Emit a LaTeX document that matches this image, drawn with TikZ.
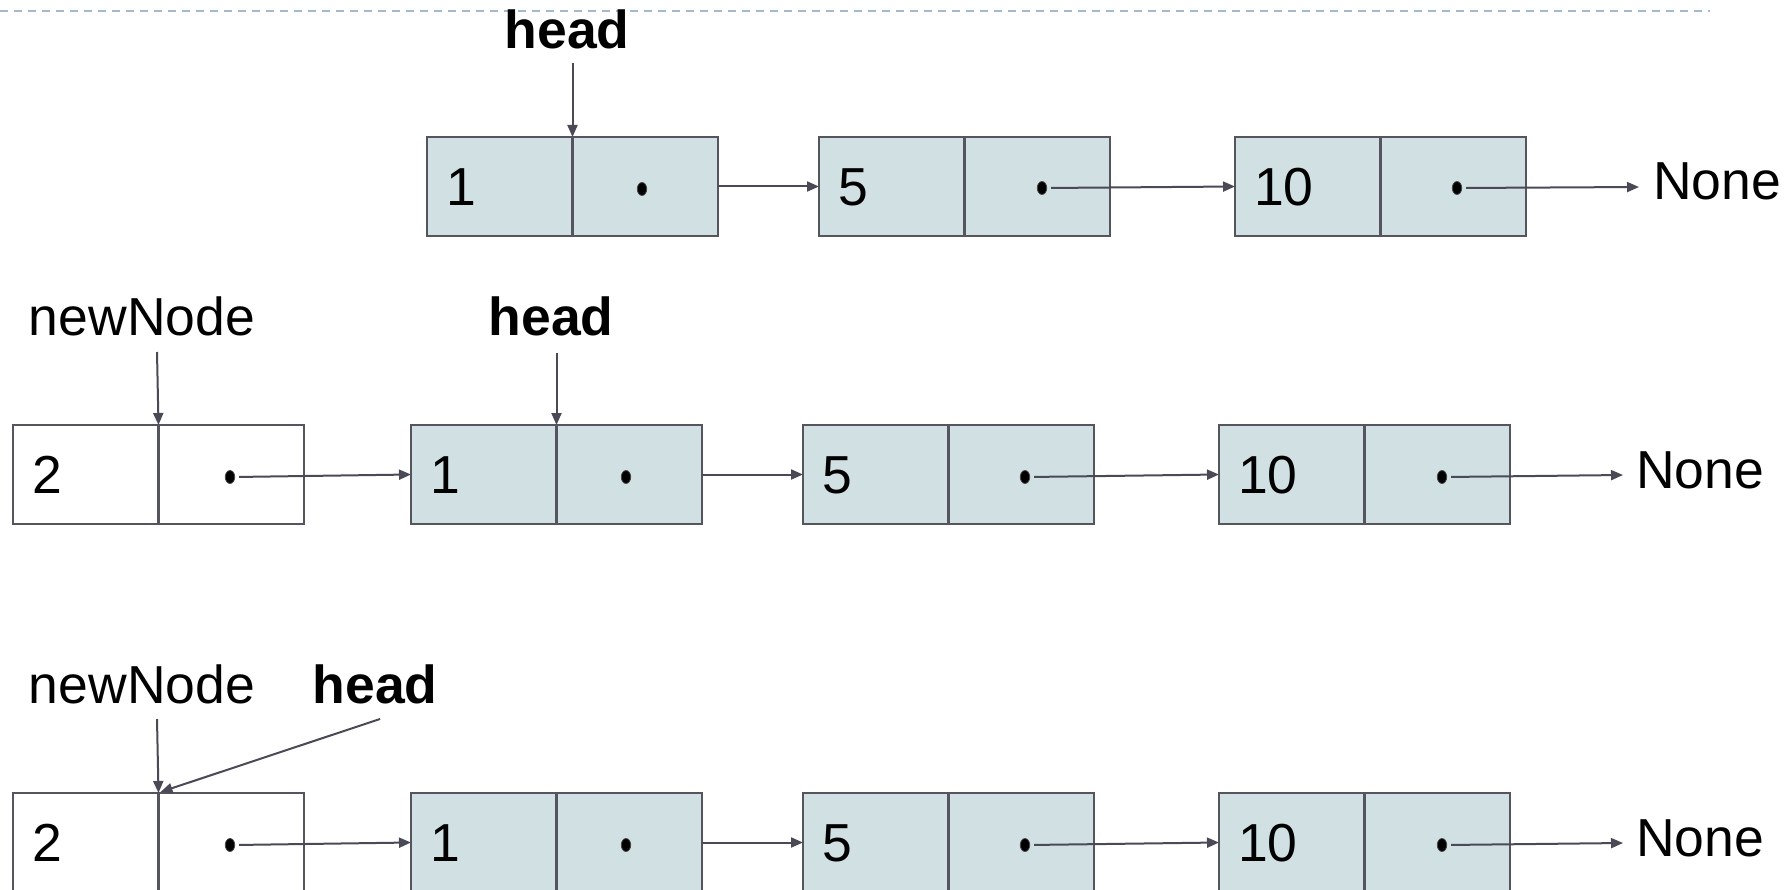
\documentclass[tikz,border=0pt]{standalone}
\usepackage{fontspec}
\setmainfont{Liberation Sans}
\usetikzlibrary{arrows.meta,shapes.geometric,calc}
\definecolor{cell}{HTML}{D0E0E3}
\definecolor{edge}{RGB}{85,85,96}
\definecolor{wire}{RGB}{74,74,86}
\definecolor{rulec}{RGB}{164,185,204}
\newcommand{\bigtext}{\fontsize{53.5}{62}\selectfont}

\begin{document}
\begin{tikzpicture}[x=1pt,y=-1pt,
  valbox/.style={draw=edge, line width=2.2pt, fill=cell, anchor=north west,
    outer sep=0pt, inner xsep=19pt, inner ysep=0pt, text width=107.5pt,
    align=left, text height=38.3pt, text depth=0pt, minimum height=99pt,
    font=\bigtext},
  ptrbox/.style={draw=edge, line width=2.2pt, fill=cell, anchor=west,
    outer sep=0pt, inner sep=0pt, minimum width=145.5pt, minimum height=99pt},
  fresh/.style={fill=white},
  ptrdot/.style={ellipse, fill=black, draw=black!70, line width=0.8pt,
    inner sep=0pt, minimum width=9.5pt, minimum height=13pt},
  link/.style={draw=wire, line width=2pt, -{Triangle[length=12pt,width=10pt]}},
  fromdot/.style={link, shorten <=4pt},
  lbl/.style={anchor=base, inner sep=0pt, font=\bigtext},
  boldlbl/.style={anchor=base, inner sep=0pt, font=\bigtext\bfseries},
  endlbl/.style={anchor=base west, inner sep=0pt, font=\bigtext},
]
\path[fill=white, use as bounding box] (0,0) rectangle (1787,890);

% separator at the top
\draw[rulec, line width=2.6pt, dash pattern=on 8pt off 6pt] (0,11) -- (1710,11);

% ---------- list 1 -> 5 -> 10 ----------
\node[valbox] (v11) at (427,137) {1};
\node[ptrbox] (p11) at (v11.east) {};
\node[ptrdot] (d11) at (642,189) {};
\node[valbox] (v12) at (819,137) {5};
\node[ptrbox] (p12) at (v12.east) {};
\node[ptrdot] (d12) at (1042,188) {};
\node[valbox] (v13) at (1235,137) {10};
\node[ptrbox] (p13) at (v13.east) {};
\node[ptrdot] (d13) at (1457,188) {};
\coordinate (t1) at (1639,187);
\node[endlbl] (none1) at (1653,200) {None};
\node[boldlbl] (hd1) at (567,49) {head};

\draw[link] ($(hd1.base -| v11.north east)+(0,14)$) -- (v11.north east);
\draw[link] (p11.east) -- (v12.west);
\draw[fromdot] (d12.east) -- (v13.west);
\draw[fromdot] (d13.east) -- (t1);

% ---------- new node 2 placed before the list ----------
\node[valbox, fresh] (v21) at (13,425) {2};
\node[ptrbox, fresh] (p21) at (v21.east) {};
\node[ptrdot] (d21) at (230,477) {};
\node[valbox] (v22) at (411,425) {1};
\node[ptrbox] (p22) at (v22.east) {};
\node[ptrdot] (d22) at (626,477) {};
\node[valbox] (v23) at (803,425) {5};
\node[ptrbox] (p23) at (v23.east) {};
\node[ptrdot] (d23) at (1025,477) {};
\node[valbox] (v24) at (1219,425) {10};
\node[ptrbox] (p24) at (v24.east) {};
\node[ptrdot] (d24) at (1442,477) {};
\coordinate (t2) at (1623,475);
\node[endlbl] (none2) at (1636,488) {None};
\node[lbl] (nn2) at (142,335) {newNode};
\node[boldlbl] (hd2) at (551,335) {head};

\draw[link] ($(nn2.base)+(15,17)$) -- (v21.north east);
\draw[link] ($(hd2.base -| v22.north east)+(0,18)$) -- (v22.north east);
\draw[fromdot] (d21.east) -- (v22.west);
\draw[link] (p22.east) -- (v23.west);
\draw[fromdot] (d23.east) -- (v24.west);
\draw[fromdot] (d24.east) -- (t2);

% ---------- head moved to the new node ----------
\node[valbox, fresh] (v31) at (13,793) {2};
\node[ptrbox, fresh] (p31) at (v31.east) {};
\node[ptrdot] (d31) at (230,845) {};
\node[valbox] (v32) at (411,793) {1};
\node[ptrbox] (p32) at (v32.east) {};
\node[ptrdot] (d32) at (626,845) {};
\node[valbox] (v33) at (803,793) {5};
\node[ptrbox] (p33) at (v33.east) {};
\node[ptrdot] (d33) at (1025,845) {};
\node[valbox] (v34) at (1219,793) {10};
\node[ptrbox] (p34) at (v34.east) {};
\node[ptrdot] (d34) at (1442,845) {};
\coordinate (t3) at (1623,843);
\node[endlbl] (none3) at (1636,856) {None};
\node[lbl] (nn3) at (142,703) {newNode};
\node[boldlbl] (hd3) at (375,703) {head};

\draw[link] ($(nn3.base)+(15,16)$) -- (v31.north east);
\draw[link] ($(hd3.base)+(5,16)$) -- ([xshift=2pt,yshift=1pt]v31.north east);
\draw[fromdot] (d31.east) -- (v32.west);
\draw[link] (p32.east) -- (v33.west);
\draw[fromdot] (d33.east) -- (v34.west);
\draw[fromdot] (d34.east) -- (t3);
\end{tikzpicture}
\end{document}
